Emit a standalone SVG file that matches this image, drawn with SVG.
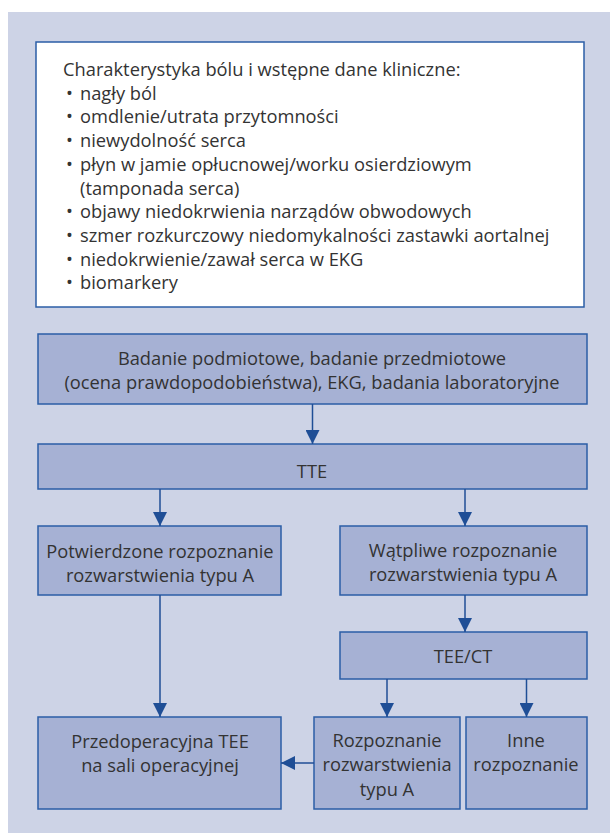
<svg xmlns="http://www.w3.org/2000/svg" width="610" height="833" viewBox="0 0 610 833">
  <defs>
    <marker id="arrow" viewBox="0 0 14 14" refX="14" refY="7" markerWidth="14" markerHeight="14" markerUnits="userSpaceOnUse" orient="auto">
      <path d="M0,0 L14,7 L0,14 Z" fill="#1f4e96"/>
    </marker>
    <style>
      .bg { fill: #cdd3e6; }
      .note { fill: #ffffff; stroke: #2b5ea6; stroke-width: 1.5; }
      .box { fill: #a6b1d4; stroke: #2b5ea6; stroke-width: 1.5; }
      text { font-family: "Open Sans", "Liberation Sans", Arial, sans-serif; font-size: 18.3px; fill: #333333; }
      .c { text-anchor: middle; }
      .link { stroke: #1f4e96; stroke-width: 1.5; fill: none; marker-end: url(#arrow); }
    </style>
  </defs>

  <rect class="bg" x="8" y="12" width="602" height="821"/>

  <g id="clinical-data">
    <rect class="note" x="36" y="42" width="548" height="265"/>
    <text x="63" y="76">Charakterystyka bólu i wstępne dane kliniczne:</text>
    <text x="66" y="100">•<tspan x="80">nagły ból</tspan></text>
    <text x="66" y="123">•<tspan x="80">omdlenie/utrata przytomności</tspan></text>
    <text x="66" y="147">•<tspan x="80">niewydolność serca</tspan></text>
    <text x="66" y="171">•<tspan x="80">płyn w jamie opłucnowej/worku osierdziowym</tspan></text>
    <text x="80" y="195">(tamponada serca)</text>
    <text x="66" y="218">•<tspan x="80">objawy niedokrwienia narządów obwodowych</tspan></text>
    <text x="66" y="242">•<tspan x="80">szmer rozkurczowy niedomykalności zastawki aortalnej</tspan></text>
    <text x="66" y="266">•<tspan x="80">niedokrwienie/zawał serca w EKG</tspan></text>
    <text x="66" y="289">•<tspan x="80">biomarkery</tspan></text>
  </g>

  <g id="history-exam">
    <rect class="box" x="38" y="334" width="549" height="70"/>
    <text class="c" x="312" y="365">Badanie podmiotowe, badanie przedmiotowe</text>
    <text class="c" x="312" y="389">(ocena prawdopodobieństwa), EKG, badania laboratoryjne</text>
  </g>

  <g id="tte">
    <rect class="box" x="38" y="444" width="549" height="45"/>
    <text class="c" x="312" y="478">TTE</text>
  </g>

  <g id="confirmed">
    <rect class="box" x="38" y="526" width="243" height="69"/>
    <text class="c" x="160" y="558">Potwierdzone rozpoznanie</text>
    <text class="c" x="160" y="582">rozwarstwienia typu A</text>
  </g>

  <g id="doubtful">
    <rect class="box" x="340" y="526" width="247" height="69"/>
    <text class="c" x="463" y="557">Wątpliwe rozpoznanie</text>
    <text class="c" x="463" y="581">rozwarstwienia typu A</text>
  </g>

  <g id="tee-ct">
    <rect class="box" x="340" y="632" width="247" height="47"/>
    <text class="c" x="463" y="663">TEE/CT</text>
  </g>

  <g id="preop-tee">
    <rect class="box" x="38" y="717" width="243" height="92"/>
    <text class="c" x="160" y="748">Przedoperacyjna TEE</text>
    <text class="c" x="160" y="772">na sali operacyjnej</text>
  </g>

  <g id="type-a">
    <rect class="box" x="314" y="717" width="146" height="92"/>
    <text class="c" x="387" y="747">Rozpoznanie</text>
    <text class="c" x="387" y="771">rozwarstwienia</text>
    <text class="c" x="387" y="796">typu A</text>
  </g>

  <g id="other">
    <rect class="box" x="466" y="717" width="121" height="92"/>
    <text class="c" x="526" y="747">Inne</text>
    <text class="c" x="526" y="771">rozpoznanie</text>
  </g>

  <g id="connectors">
    <line class="link" x1="312.5" y1="404" x2="312.5" y2="444"/>
    <line class="link" x1="160" y1="489" x2="160" y2="526"/>
    <line class="link" x1="465" y1="489" x2="465" y2="526"/>
    <line class="link" x1="465" y1="595" x2="465" y2="632"/>
    <line class="link" x1="160" y1="595" x2="160" y2="717"/>
    <line class="link" x1="387" y1="679" x2="387" y2="717"/>
    <line class="link" x1="526.5" y1="679" x2="526.5" y2="717"/>
    <line class="link" x1="314" y1="763" x2="281" y2="763"/>
  </g>
</svg>
